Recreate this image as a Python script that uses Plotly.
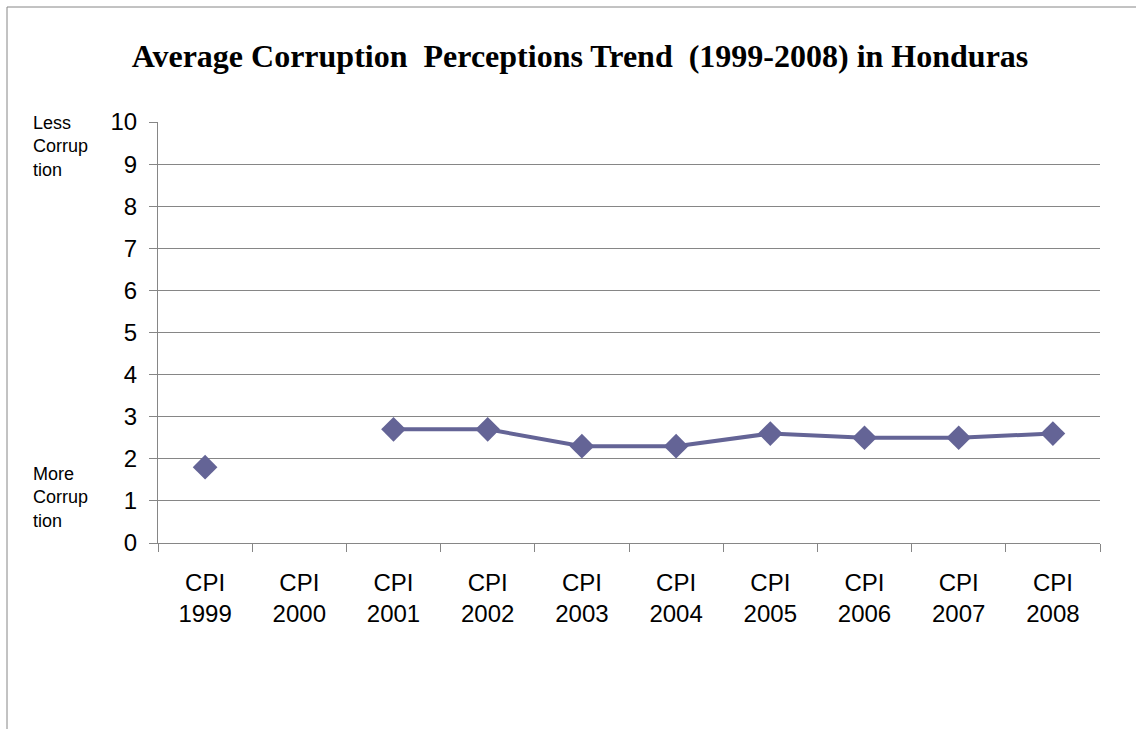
import plotly.graph_objects as go

categories = ["CPI<br>1999", "CPI<br>2000", "CPI<br>2001", "CPI<br>2002", "CPI<br>2003",
              "CPI<br>2004", "CPI<br>2005", "CPI<br>2006", "CPI<br>2007", "CPI<br>2008"]
cpi_values = [1.8, None, 2.7, 2.7, 2.3, 2.3, 2.6, 2.5, 2.5, 2.6]
y_ticks = list(range(0, 11))

W, H = 1136, 729
L, R, T, B = 158, 36, 122, 186
pw, ph = W - L - R, H - T - B

fig = go.Figure()
fig.add_trace(go.Scatter(
    x=categories, y=cpi_values, mode="lines+markers",
    connectgaps=False,
    line=dict(color="#646496", width=4),
    marker=dict(symbol="diamond", size=19, color="#646496"),
    showlegend=False, hoverinfo="skip",
))

fig.update_layout(
    width=W, height=H,
    margin=dict(l=L, r=R, t=T, b=B),
    paper_bgcolor="white", plot_bgcolor="white",
    title=dict(text="<b>Average Corruption  Perceptions Trend  (1999-2008) in Honduras</b>",
               x=580 / W, xanchor="center", y=1 - 56 / H, yanchor="middle",
               font=dict(family="Liberation Serif", size=32, color="black")),
    xaxis=dict(type="category", tickson="boundaries", ticks="outside", ticklen=8,
               tickcolor="#868686", showline=True, linecolor="#868686", linewidth=1,
               showgrid=False, ticklabelstandoff=18,
               tickfont=dict(family="Liberation Sans", size=24, color="black"),
               range=[-0.5, 9.5], fixedrange=True),
    yaxis=dict(range=[0, 10], tickvals=y_ticks, ticktext=[str(v) for v in y_ticks],
               ticks="outside", ticklen=8, tickcolor="#868686",
               showline=True, linecolor="#868686", linewidth=1,
               showgrid=True, gridcolor="#868686", gridwidth=1,
               zeroline=False, ticklabelstandoff=7,
               tickfont=dict(family="Liberation Sans", size=24, color="black")),
    font=dict(family="Liberation Sans", color="black"),
)

fig.add_annotation(text="Less<br>Corrup<br>tion", xref="paper", yref="paper",
                   x=(31 - L) / pw, y=(H - B - 146) / ph, xanchor="left", yanchor="middle",
                   showarrow=False, align="left",
                   font=dict(family="Liberation Sans", size=18, color="black"))
fig.add_annotation(text="More<br>Corrup<br>tion", xref="paper", yref="paper",
                   x=(31 - L) / pw, y=(H - B - 497) / ph, xanchor="left", yanchor="middle",
                   showarrow=False, align="left",
                   font=dict(family="Liberation Sans", size=18, color="black"))

fig.add_shape(type="rect", xref="paper", yref="paper",
              x0=(7 - L) / pw, x1=(W + 20 - L) / pw,
              y0=(H - B - (H + 20)) / ph, y1=(H - B - 7) / ph,
              line=dict(color="#868686", width=1), fillcolor="rgba(0,0,0,0)", layer="below")

fig.write_html("out.html", config={"displayModeBar": False},
               post_script="document.body.style.margin='0';")
